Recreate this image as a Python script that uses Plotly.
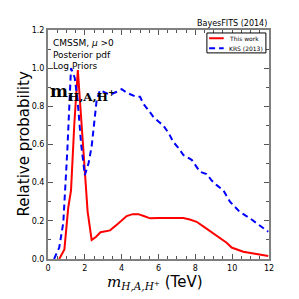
import plotly.graph_objects as go

# Red: This work
red_x = [0.61, 0.89, 1.10, 1.25, 1.43, 1.62, 1.90, 2.15, 2.37, 2.60, 2.85, 3.37, 3.80, 4.27, 4.60, 4.90, 5.20, 5.54, 6.00, 6.44, 7.00, 7.35, 7.70, 8.07, 8.45, 8.80, 9.34, 9.70, 9.97, 10.30, 10.60, 11.00, 11.33, 11.96]
red_y = [0.0, 0.05, 0.27, 0.36, 0.71, 0.99, 0.60, 0.25, 0.10, 0.115, 0.14, 0.15, 0.185, 0.225, 0.235, 0.235, 0.225, 0.213, 0.215, 0.216, 0.216, 0.215, 0.207, 0.195, 0.17, 0.147, 0.113, 0.085, 0.06, 0.048, 0.038, 0.031, 0.025, 0.016]

# Blue dashed: KRS (2013)
blue_x = [0.33, 0.61, 0.83, 1.05, 1.25, 1.45, 1.61, 1.80, 2.00, 2.20, 2.37, 2.64, 2.82, 3.10, 3.37, 3.70, 4.00, 4.30, 4.63, 4.80, 5.00, 5.17, 5.45, 5.72, 6.00, 6.26, 6.55, 6.80, 7.10, 7.35, 7.80, 8.25, 8.61, 8.90, 9.16, 9.52, 9.88, 10.40, 10.97, 11.50, 11.96]
blue_y = [0.0, 0.06, 0.19, 0.57, 1.0, 0.95, 0.83, 0.60, 0.44, 0.50, 0.59, 0.83, 0.885, 0.87, 0.86, 0.875, 0.89, 0.87, 0.855, 0.85, 0.85, 0.815, 0.78, 0.745, 0.72, 0.70, 0.66, 0.614, 0.58, 0.545, 0.52, 0.457, 0.445, 0.41, 0.387, 0.36, 0.30, 0.248, 0.213, 0.178, 0.143]

series_names = ["This work", "KRS (2013)"]
series_colors = ["red", "blue"]
series_dash = ["solid", "6px,4px"]

fig = go.Figure()
fig.add_trace(go.Scatter(x=red_x, y=red_y, mode="lines", name=series_names[0],
                         line=dict(color=series_colors[0], width=2, dash=series_dash[0])))
fig.add_trace(go.Scatter(x=blue_x, y=blue_y, mode="lines", name=series_names[1],
                         line=dict(color=series_colors[1], width=2, dash=series_dash[1])))

axis_common = dict(showgrid=False, zeroline=False, showline=True, linecolor="#808080", linewidth=2,
                   mirror="allticks", ticks="inside", ticklen=5, tickcolor="#555555",
                   automargin=False,
                   tickfont=dict(family="DejaVu Sans", size=8, color="black"))
fig.update_xaxes(range=[0, 12], dtick=2, minor=dict(dtick=0.5, ticks="inside", ticklen=3, tickcolor="#555555"),
                 **axis_common)
fig.update_yaxes(range=[0, 1.2], dtick=0.2, tickformat=".1f",
                 minor=dict(dtick=0.1, ticks="inside", ticklen=3, tickcolor="#555555"),
                 **axis_common)

# Axis titles as annotations for precise placement
fig.add_annotation(x=-0.113, y=0.5, xref="paper", yref="paper", xanchor="center", yanchor="middle",
                   text="Relative probability", textangle=-90, showarrow=False,
                   font=dict(family="DejaVu Sans", size=15, color="black"))
fig.add_annotation(x=0.486, y=-0.102, xref="paper", yref="paper", xanchor="center", yanchor="middle",
                   text="<span style=\"font-family:'DejaVu Serif'\"><i>m</i><sub><i>H,A,H</i><sup>+</sup></sub></span> (TeV)",
                   showarrow=False, font=dict(family="DejaVu Sans", size=15, color="black"))

fig.add_annotation(x=0.015, y=0.975, xref="paper", yref="paper", xanchor="left", yanchor="top",
                   text="CMSSM, <i>μ</i> &gt;0<br>Posterior pdf<br>Log Priors", showarrow=False, align="left",
                   font=dict(family="DejaVu Sans", size=9, color="black"))
fig.add_annotation(x=0.0, y=0.725, xref="paper", yref="paper", xanchor="left", yanchor="middle",
                   text="<b>m<sub>H,A,H<sup>+</sup></sub></b>", showarrow=False,
                   font=dict(family="DejaVu Serif", size=17, color="black"))
fig.add_annotation(x=1.0, y=1.0, xref="paper", yref="paper", xanchor="right", yanchor="bottom",
                   text="BayesFITS (2014)", showarrow=False, yshift=0,
                   font=dict(family="DejaVu Sans", size=8, color="black"))

# Custom compact legend (matplotlib-style box)
fig.add_shape(type="rect", xref="paper", yref="paper", x0=0.719, x1=0.986, y0=0.900, y1=0.987,
              line=dict(color="black", width=1), fillcolor="white", layer="above")
leg_y = [0.964, 0.920]
for i in range(2):
    fig.add_shape(type="line", xref="paper", yref="paper", x0=0.729, x1=0.795, y0=leg_y[i], y1=leg_y[i],
                  line=dict(color=series_colors[i], width=2, dash=series_dash[i]), layer="above")
    fig.add_annotation(x=0.810, y=leg_y[i], xref="paper", yref="paper", xanchor="left", yanchor="middle",
                       text=series_names[i], showarrow=False,
                       font=dict(family="DejaVu Sans", size=6, color="black"))

fig.update_layout(width=299, height=299, margin=dict(l=40, r=38, t=22, b=48),
                  paper_bgcolor="white", plot_bgcolor="white", showlegend=False)
fig.write_html("out.html")
